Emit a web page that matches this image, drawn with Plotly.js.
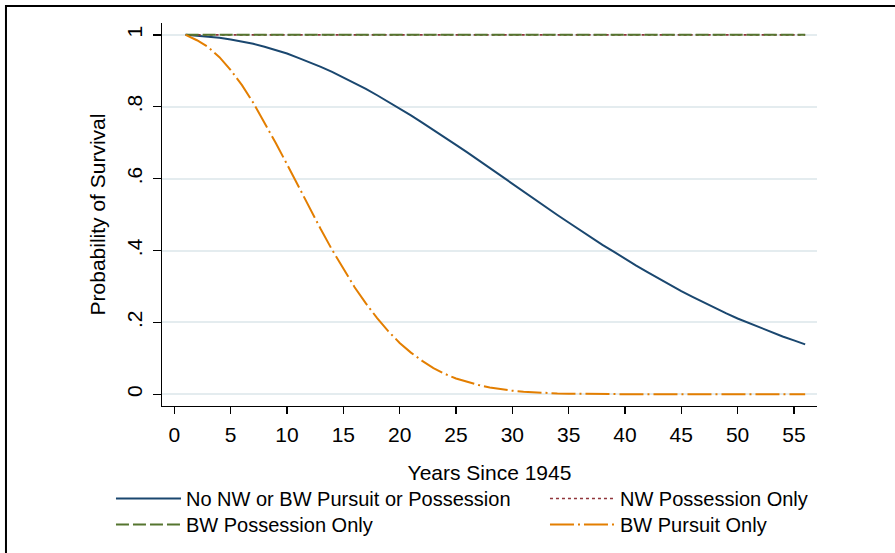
<!DOCTYPE html>
<html>
<head>
<meta charset="utf-8">
<script src="https://cdn.plot.ly/plotly-3.0.1.min.js"></script>
<style>html,body{margin:0;padding:0;background:#fff;}#chart{width:895px;height:553px;}</style>
</head>
<body>
<div id="chart"></div>
<script>
const years = [1,2,3,4,5,6,7,8,9,10,11,12,13,14,15,16,17,18,19,20,21,22,23,24,25,26,27,28,29,30,31,32,33,34,35,36,37,38,39,40,41,42,43,44,45,46,47,48,49,50,51,52,53,54,55,56];
const noPursuitPossession = [1.000,0.998,0.996,0.992,0.987,0.982,0.975,0.967,0.958,0.948,0.936,0.924,0.911,0.897,0.882,0.866,0.850,0.832,0.814,0.795,0.776,0.756,0.736,0.715,0.694,0.673,0.651,0.630,0.608,0.586,0.564,0.542,0.521,0.499,0.478,0.457,0.437,0.416,0.397,0.377,0.358,0.340,0.322,0.304,0.287,0.271,0.255,0.240,0.225,0.211,0.198,0.185,0.173,0.161,0.150,0.139];
const nwPossessionOnly = [1,1,1,1,1,1,1,1,1,1,1,1,1,1,1,1,1,1,1,1,1,1,1,1,1,1,1,1,1,1,1,1,1,1,1,1,1,1,1,1,1,1,1,1,1,1,1,1,1,1,1,1,1,1,1,1];
const bwPossessionOnly = [1,1,1,1,1,1,1,1,1,1,1,1,1,1,1,1,1,1,1,1,1,1,1,1,1,1,1,1,1,1,1,1,1,1,1,1,1,1,1,1,1,1,1,1,1,1,1,1,1,1,1,1,1,1,1,1];
const bwPursuitOnly = [1.000,0.985,0.966,0.938,0.902,0.860,0.811,0.757,0.699,0.640,0.579,0.518,0.459,0.402,0.348,0.298,0.253,0.212,0.175,0.143,0.116,0.093,0.073,0.057,0.044,0.034,0.026,0.019,0.014,0.010,0.007,0.005,0.004,0.0025,0.0017,0.0011,0.0007,0.0005,0.0003,0.0002,0.0001,0.0001,0,0,0,0,0,0,0,0,0,0,0,0,0,0];
const seriesNames = ["No NW or BW Pursuit or Possession","NW Possession Only","BW Possession Only","BW Pursuit Only"];
const xTicks = [0,5,10,15,20,25,30,35,40,45,50,55];
const yTicks = [0,0.2,0.4,0.6,0.8,1];
const yTickText = ["0",".2",".4",".6",".8","1"];
const xTitle = "Years Since 1945";
const yTitle = "Probability of Survival";

const traces = [
  {x: years, y: noPursuitPossession, name: seriesNames[0], type: 'scatter', mode: 'lines',
   line: {color: '#1a476f', width: 2}, legend: 'legend'},
  {x: years, y: nwPossessionOnly, name: seriesNames[1], type: 'scatter', mode: 'lines',
   line: {color: '#90353b', width: 1.6, dash: 'dot'}, legend: 'legend2'},
  {x: years, y: bwPossessionOnly, name: seriesNames[2], type: 'scatter', mode: 'lines',
   line: {color: '#55752f', width: 2, dash: '13px,4px'}, legend: 'legend3'},
  {x: years, y: bwPursuitOnly, name: seriesNames[3], type: 'scatter', mode: 'lines',
   line: {color: '#e37e00', width: 2, dash: '24px,4px,2px,4px'}, legend: 'legend4'}
];

const legendCommon = {
  orientation: 'v', xanchor: 'left', yanchor: 'top',
  itemwidth: 65, font: {size: 20, color: '#000'}, bgcolor: 'rgba(0,0,0,0)',
  tracegroupgap: 0, traceorder: 'normal', borderwidth: 0
};

const layout = {
  width: 895, height: 553,
  margin: {l: 162, r: 78, t: 23, b: 147, pad: 0, autoexpand: false},
  paper_bgcolor: '#fff', plot_bgcolor: '#fff',
  font: {family: '"Liberation Sans", Arial, sans-serif', size: 21, color: '#000'},
  showlegend: true,
  xaxis: {
    range: [-1.1, 57.05], tickmode: 'array', tickvals: xTicks,
    showgrid: false, zeroline: false, showline: true, linecolor: '#000', linewidth: 1.3,
    ticks: 'outside', ticklen: 7, tickwidth: 1.3, tickcolor: '#000',
    tickfont: {size: 21}, ticklabelstandoff: 2, automargin: false,
    title: {text: xTitle, font: {size: 21}, standoff: 20}
  },
  yaxis: {
    range: [-0.0325, 1.033], tickmode: 'array', tickvals: yTicks, ticktext: yTickText,
    tickangle: -90, automargin: false,
    showgrid: true, gridcolor: '#e4ecef', gridwidth: 2,
    zeroline: false, showline: true, linecolor: '#000', linewidth: 1.3,
    ticks: 'outside', ticklen: 8, tickwidth: 1.3, tickcolor: '#000',
    tickfont: {size: 21}, ticklabelstandoff: 2,
    title: {text: yTitle, font: {size: 21}, standoff: 12}
  },
  legend: Object.assign({}, legendCommon, {x: -0.0779, y: -0.1905}),
  legend2: Object.assign({}, legendCommon, {x: 0.5847, y: -0.1905}),
  legend3: Object.assign({}, legendCommon, {x: -0.0779, y: -0.2583}),
  legend4: Object.assign({}, legendCommon, {x: 0.5847, y: -0.2583}),
  shapes: [
    {type: 'rect', xref: 'paper', yref: 'paper', x0: -0.2382, x1: 1.2, y0: -0.5, y1: 1.0444,
     line: {color: '#000', width: 2}, fillcolor: 'rgba(0,0,0,0)', layer: 'below'}
  ]
};

Plotly.newPlot('chart', traces, layout, {staticPlot: true, displayModeBar: false});
</script>
</body>
</html>
